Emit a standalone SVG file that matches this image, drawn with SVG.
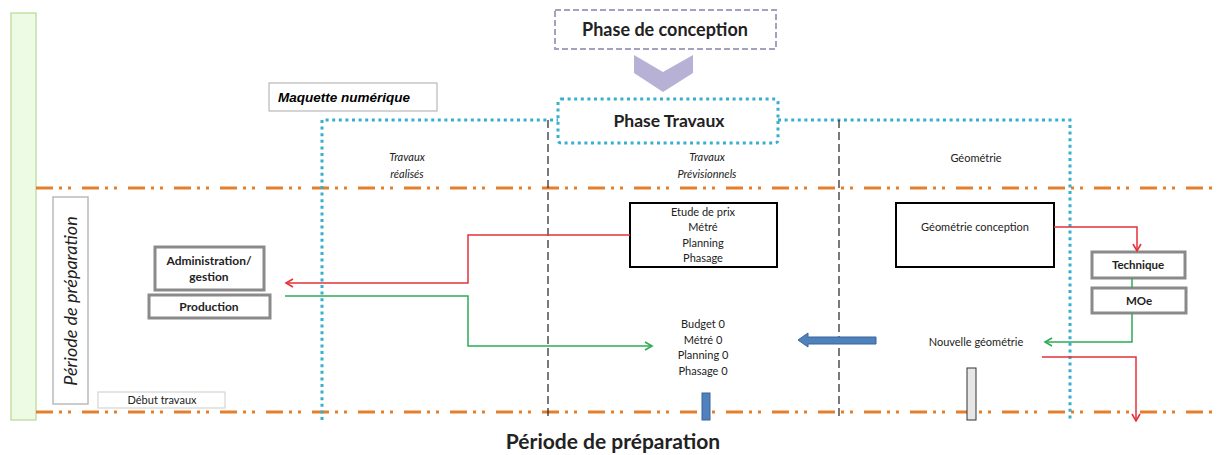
<svg xmlns="http://www.w3.org/2000/svg" width="1218" height="455" viewBox="0 0 1218 455">
<defs>
<style>
.t{font-family:Lato,"Liberation Sans",sans-serif;fill:#222;text-anchor:middle}
.sm{font-size:11px}
.it{font-style:italic}
.b{font-weight:bold}
.gbox{fill:#fff;stroke:#8a8a8a;stroke-width:3}
.kbox{fill:#fff;stroke:#000;stroke-width:2}
.orange{stroke:#e47f2e;stroke-width:3;fill:none;stroke-dasharray:17 6 3 6 3 11}
.dot{stroke:#38aed0;stroke-width:3;fill:none;stroke-dasharray:3 3.6}
.vd{stroke:#222;stroke-width:1.2;fill:none;stroke-dasharray:8 4}
.red{stroke:#e53238;stroke-width:1.5;fill:none}
.grn{stroke:#2eaa55;stroke-width:1.5;fill:none}
</style>
<marker id="ar" markerWidth="10" markerHeight="10" refX="8" refY="5" orient="auto" markerUnits="userSpaceOnUse"><path d="M1,1 L8,5 L1,9" fill="none" stroke="#e53238" stroke-width="1.6"/></marker>
<marker id="ag" markerWidth="10" markerHeight="10" refX="8" refY="5" orient="auto" markerUnits="userSpaceOnUse"><path d="M1,1 L8,5 L1,9" fill="none" stroke="#2eaa55" stroke-width="1.6"/></marker>
</defs>
<rect width="1218" height="455" fill="#fff"/>

<g id="sidebar"><rect x="11" y="13" width="25" height="407" fill="#eefbe4" stroke="#c3dfa6" stroke-width="1.5"/></g>

<g id="frame">
<line class="orange" x1="36" y1="188" x2="1218" y2="188"/>
<line class="orange" x1="36" y1="412" x2="1218" y2="412"/>
<path class="dot" d="M322,420 V120 H558"/>
<path class="dot" d="M778,120 H1070 V420"/>
<line class="vd" x1="548" y1="120" x2="548" y2="420"/>
<line class="vd" x1="839" y1="120" x2="839" y2="420"/>
<text class="t sm it" x="407" y="161">Travaux</text>
<text class="t sm it" x="407" y="178">réalisés</text>
<text class="t sm it" x="707" y="161">Travaux</text>
<text class="t sm it" x="707" y="178">Prévisionnels</text>
<text class="t sm" x="976" y="162">Géométrie</text>
</g>

<g id="maquette"><rect x="269" y="83" width="168" height="28" fill="#fff" stroke="#aaa" stroke-width="1"/>
<text x="278" y="102" font-family="'Liberation Sans',sans-serif" font-size="13.5" font-weight="bold" font-style="italic" fill="#000">Maquette numérique</text></g>

<g id="conception"><rect x="555" y="10" width="221" height="39" fill="#fff" stroke="#a89fbf" stroke-width="2" stroke-dasharray="6 3"/>
<text class="t b" x="665" y="36" font-size="18" fill="#111">Phase de conception</text></g>

<g id="chevron"><polygon points="634,55 663,72 693,55 693,73 663,92 634,73" fill="#b8b1d6"/></g>

<g id="travaux"><rect x="558" y="99" width="220" height="44" rx="3" fill="#fff" stroke="#38aed0" stroke-width="3" stroke-dasharray="3 3.6"/>
<text class="t b" x="669" y="127" font-size="17.5" fill="#111">Phase Travaux</text></g>

<g id="periode"><rect x="53" y="197" width="35" height="207" fill="#fff" stroke="#bbb" stroke-width="1.5"/>
<text class="t it" transform="translate(77,301) rotate(-90)" font-size="18" fill="#555">Période de préparation</text></g>

<g id="debut"><rect x="98" y="392" width="127" height="16" fill="#fff" stroke="#ccc" stroke-width="1"/>
<text class="t sm" x="162" y="404" fill="#333">Début travaux</text></g>

<g id="admin"><rect class="gbox" x="155" y="247" width="109" height="43"/>
<text class="t b" x="209" y="265" font-size="12">Administration/</text>
<text class="t b" x="209" y="281" font-size="12">gestion</text></g>

<g id="production"><rect class="gbox" x="149" y="295" width="121" height="23"/>
<text class="t b" x="209" y="311" font-size="12">Production</text></g>

<g id="etude"><rect class="kbox" x="630" y="203" width="147" height="64"/>
<text class="t sm" x="703" y="216">Etude de prix</text>
<text class="t sm" x="703" y="231">Métré</text>
<text class="t sm" x="703" y="247">Planning</text>
<text class="t sm" x="703" y="262">Phasage</text></g>

<g id="budget">
<text class="t sm" x="703" y="328">Budget 0</text>
<text class="t sm" x="703" y="344">Métré 0</text>
<text class="t sm" x="703" y="359">Planning 0</text>
<text class="t sm" x="703" y="375">Phasage 0</text></g>

<g id="geoconc"><rect class="kbox" x="896" y="203" width="158" height="64"/>
<text class="t sm" x="975" y="231">Géométrie conception</text></g>

<g id="technique"><rect class="gbox" x="1092" y="252" width="93" height="26" stroke-width="2.5"/>
<text class="t b" x="1138" y="269" font-size="11.5">Technique</text></g>

<g id="moe"><rect class="gbox" x="1092" y="288" width="94" height="25" stroke-width="2.5"/>
<text class="t b" x="1139" y="305" font-size="11.5">MOe</text></g>

<g id="nouvelle"><text class="t sm" x="976" y="346">Nouvelle géométrie</text></g>

<g id="bars">
<polygon points="798,340 808,333 808,337 876,337 876,344 808,344 808,347" fill="#4f81bd" stroke="#3a659a" stroke-width="1"/>
<rect x="702" y="393" width="8" height="27" fill="#4f81bd" stroke="#3a659a" stroke-width="1"/>
<rect x="967" y="368" width="9" height="52" fill="#e6e6e6" stroke="#333" stroke-width="1"/>
</g>

<g id="connectors">
<path class="red" d="M630,235 H468 V283 H286" marker-end="url(#ar)"/>
<path class="grn" d="M285,296 H468 V346 H652" marker-end="url(#ag)"/>
<path class="red" d="M1054,227 H1137 V251" marker-end="url(#ar)"/>
<path class="grn" d="M1132,278 V288"/>
<path class="grn" d="M1132,313 V342 H1045" marker-end="url(#ag)"/>
<path class="red" d="M1042,357 H1136 V421" marker-end="url(#ar)"/>
</g>

<text x="613" y="449" font-family="Lato,'Open Sans',sans-serif" font-size="21" font-weight="bold" fill="#222" text-anchor="middle">Période de préparation</text>
</svg>
